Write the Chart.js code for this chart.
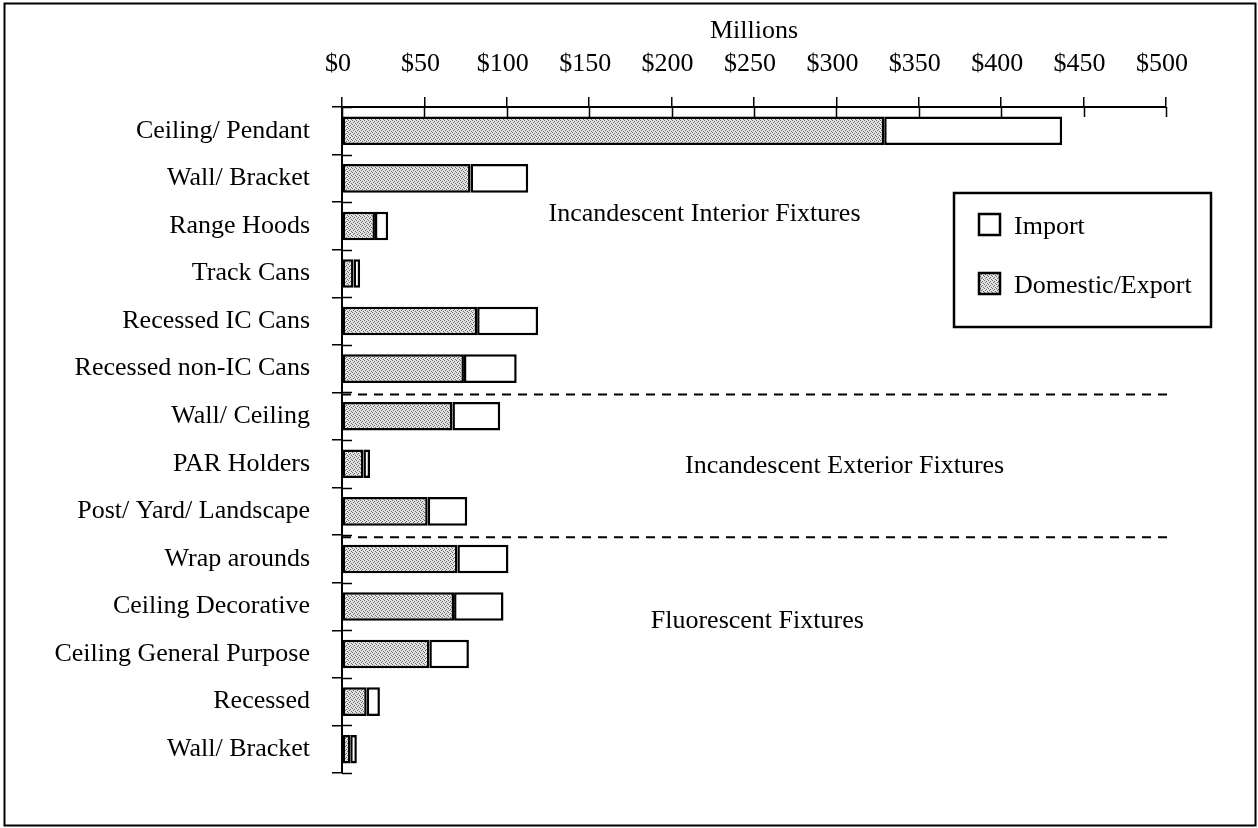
<!DOCTYPE html>
<html>
<head>
<meta charset="utf-8">
<script src="https://cdn.jsdelivr.net/npm/chart.js@4.4.0/dist/chart.umd.min.js"></script>
<style>
html, body { margin: 0; padding: 0; background: #fff; }
canvas { display: block; }
</style>
</head>
<body>
<canvas id="fixtureChart" width="1258" height="828"></canvas>
<script>
// Lighting fixture shipments (millions of dollars)
var categories = [
    "Ceiling/ Pendant", "Wall/ Bracket", "Range Hoods", "Track Cans",
    "Recessed IC Cans", "Recessed non-IC Cans", "Wall/ Ceiling", "PAR Holders",
    "Post/ Yard/ Landscape", "Wrap arounds", "Ceiling Decorative",
    "Ceiling General Purpose", "Recessed", "Wall/ Bracket"
];
var domesticExport = [329, 78, 20, 7, 82, 74, 67, 13, 52, 70, 68, 53, 15, 5];
var imports = [108, 35, 8, 4, 37, 32, 29, 4, 24, 31, 30, 24, 8, 4];
var xTickValues = [0, 50, 100, 150, 200, 250, 300, 350, 400, 450, 500];

var groupNames = ["Incandescent Interior Fixtures", "Incandescent Exterior Fixtures", "Fluorescent Fixtures"];
var groupBreaks = [6, 9];   // dashed line drawn before these rows

// where the group names sit (x in $M, y in row units)
var groupLabelPos = [
    { x: 220, y: 1.75 },
    { x: 305, y: 7.05 },
    { x: 252, y: 10.3 }
];

var serif = "'Liberation Serif', 'DejaVu Serif', serif";
Chart.defaults.font.family = serif;
Chart.defaults.color = '#000';

// stippled grey like the printed bars
function makeStipple() {
    var c = document.createElement('canvas');
    c.width = 4; c.height = 4;
    var g = c.getContext('2d');
    g.fillStyle = '#e2e2e2';
    g.fillRect(0, 0, 4, 4);
    g.fillStyle = '#6a6a6a';
    g.fillRect(0, 0, 1, 1);
    g.fillRect(2, 1, 1, 1);
    g.fillRect(1, 2, 1, 1);
    g.fillRect(3, 3, 1, 1);
    return g.createPattern(c, 'repeat');
}

var stipple = makeStipple();

var decor = {
    id: 'decor',
    beforeDraw: function (chart) {
        var ctx = chart.ctx;
        ctx.save();
        ctx.fillStyle = '#fff';
        ctx.fillRect(0, 0, chart.width, chart.height);
        ctx.restore();
    },
    afterDraw: function (chart) {
        var ctx = chart.ctx;
        var xs = chart.scales.x, ys = chart.scales.y;
        var area = chart.chartArea;
        ctx.save();

        // outer frame
        ctx.strokeStyle = '#000';
        ctx.lineWidth = 2;
        ctx.strokeRect(4.5, 3.5, 1251, 822);

        // tick marks poking inside the axes
        ctx.lineWidth = 1.5;
        ctx.beginPath();
        xTickValues.forEach(function (v) {
            var px = Math.round(xs.getPixelForValue(v)) + 0.5;
            ctx.moveTo(px, area.top);
            ctx.lineTo(px, area.top + 10);
        });
        for (var i = 0; i <= categories.length; i++) {
            var py = Math.round(ys.getPixelForValue(i - 0.5)) + 0.5;
            ctx.moveTo(area.left, py);
            ctx.lineTo(area.left + 10, py);
        }
        ctx.stroke();

        // dashed group separators
        ctx.setLineDash([9, 7]);
        ctx.lineWidth = 2;
        groupBreaks.forEach(function (b) {
            var py = ys.getPixelForValue(b - 0.5) + 2;
            ctx.beginPath();
            ctx.moveTo(area.left, py);
            ctx.lineTo(xs.getPixelForValue(504), py);
            ctx.stroke();
        });
        ctx.setLineDash([]);

        // group names
        ctx.font = '26px ' + serif;
        ctx.fillStyle = '#000';
        ctx.textAlign = 'center';
        ctx.textBaseline = 'middle';
        groupNames.forEach(function (name, k) {
            ctx.fillText(name, xs.getPixelForValue(groupLabelPos[k].x), ys.getPixelForValue(groupLabelPos[k].y));
        });

        // legend box
        ctx.lineWidth = 2.5;
        ctx.strokeRect(954, 193, 257, 134);
        var items = chart.data.datasets.slice().reverse();
        ctx.textAlign = 'left';
        items.forEach(function (ds, k) {
            var top = 214 + k * 59;
            ctx.fillStyle = ds.backgroundColor;
            ctx.fillRect(979, top, 21, 21);
            ctx.lineWidth = 2.5;
            ctx.strokeStyle = '#000';
            ctx.strokeRect(979, top, 21, 21);
            ctx.fillStyle = '#000';
            ctx.fillText(ds.label, 1014, top + 13);
        });

        ctx.restore();
    }
};

new Chart(document.getElementById('fixtureChart'), {
    type: 'bar',
    data: {
        labels: categories,
        datasets: [
            {
                label: 'Domestic/Export',
                data: domesticExport,
                backgroundColor: stipple,
                borderColor: '#000',
                borderWidth: 2.5,
                borderSkipped: false
            },
            {
                label: 'Import',
                data: imports,
                backgroundColor: '#fff',
                borderColor: '#000',
                borderWidth: 2.5,
                borderSkipped: false
            }
        ]
    },
    options: {
        indexAxis: 'y',
        responsive: false,
        animation: false,
        devicePixelRatio: 1,
        layout: { padding: { top: 0, right: 92, bottom: 55, left: 0 } },
        plugins: {
            legend: { display: false },
            tooltip: { enabled: false }
        },
        datasets: {
            bar: { categoryPercentage: 0.6, barPercentage: 1 }
        },
        scales: {
            x: {
                position: 'top',
                stacked: true,
                min: 0,
                max: 500,
                afterBuildTicks: function (scale) {
                    scale.ticks = xTickValues.map(function (v) { return { value: v }; });
                },
                afterFit: function (scale) { scale.height = 107; },
                ticks: {
                    padding: 17,
                    labelOffset: -4,
                    font: { size: 26 },
                    color: '#000',
                    maxRotation: 0,
                    callback: function (v) { return '$' + v; }
                },
                grid: {
                    drawOnChartArea: false,
                    drawTicks: true,
                    tickLength: 10,
                    color: '#000',
                    lineWidth: 1.5
                },
                border: { display: true, color: '#000', width: 2 },
                title: {
                    display: true,
                    text: 'Millions',
                    font: { size: 26 },
                    color: '#000',
                    padding: { top: 16, bottom: 0 }
                }
            },
            y: {
                stacked: true,
                afterFit: function (scale) { scale.width = 342; },
                ticks: {
                    padding: 22,
                    font: { size: 26 },
                    color: '#000'
                },
                grid: {
                    drawOnChartArea: false,
                    drawTicks: true,
                    tickLength: 10,
                    color: '#000',
                    lineWidth: 1.5
                },
                border: { display: true, color: '#000', width: 2 }
            }
        }
    },
    plugins: [decor]
});
</script>
</body>
</html>
